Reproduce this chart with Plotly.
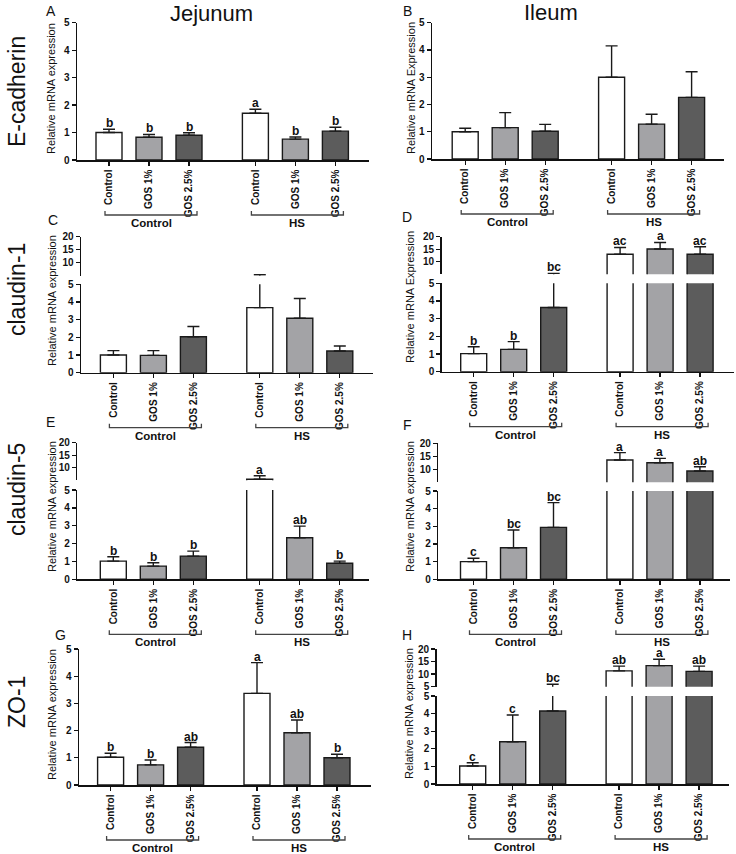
import plotly.graph_objects as go

W, H = 736, 854

categories = ["Control", "GOS 1%", "GOS 2.5%", "Control", "GOS 1%", "GOS 2.5%"]
x_pos = [0, 1, 2, 3.66, 4.66, 5.66]
group_names = ["Control", "HS"]
group_centers = [1.05, 4.71]
bar_colors = ["#ffffff", "#a3a3a6", "#5c5c5c", "#ffffff", "#a3a3a6", "#5c5c5c"]

row_labels = ["E-cadherin", "claudin-1", "claudin-5", "ZO-1"]
col_titles = ["Jejunum", "Ileum"]

A_mean = [1.0, 0.83, 0.90, 1.70, 0.76, 1.05]
A_err = [0.12, 0.10, 0.09, 0.15, 0.08, 0.14]
A_let = ["b", "b", "b", "a", "b", "b"]

B_mean = [1.0, 1.15, 1.02, 3.0, 1.28, 2.26]
B_err = [0.13, 0.55, 0.25, 1.15, 0.36, 0.94]
B_let = ["", "", "", "", "", ""]

C_mean = [1.0, 0.98, 2.03, 3.68, 3.08, 1.23]
C_err = [0.25, 0.27, 0.58, 1.67, 1.12, 0.28]
C_let = ["", "", "", "", "", ""]

D_mean = [1.02, 1.26, 3.63, 13.0, 15.1, 13.0]
D_err = [0.39, 0.44, 1.72, 2.7, 2.6, 3.0]
D_let = ["b", "b", "bc", "ac", "a", "ac"]

E_mean = [1.02, 0.74, 1.30, 5.4, 2.33, 0.90]
E_err = [0.24, 0.19, 0.28, 1.4, 0.65, 0.12]
E_let = ["b", "b", "b", "a", "ab", "b"]

F_mean = [1.0, 1.79, 2.94, 13.6, 12.5, 9.35]
F_err = [0.19, 1.0, 1.4, 2.8, 1.7, 1.65]
F_let = ["c", "bc", "bc", "a", "a", "ab"]

G_mean = [1.02, 0.74, 1.39, 3.37, 1.92, 1.0]
G_err = [0.15, 0.18, 0.17, 1.13, 0.47, 0.13]
G_let = ["b", "b", "ab", "a", "ab", "b"]

H_mean = [1.02, 2.40, 4.15, 11.3, 13.4, 11.1]
H_err = [0.19, 1.52, 1.85, 1.9, 2.5, 2.1]
H_let = ["c", "c", "bc", "ab", "a", "ab"]

FONT = "Liberation Sans, Arial, sans-serif"


def px(x):
    return x / W


def py(y):
    return 1 - y / H


panels = [
    dict(k="A", mean=A_mean, err=A_err, let=A_let, ax=77, xmin=-0.80, low=(160, 22.7), up=None,
         title="Relative mRNA expression", tpos=(51, 89), lpos=(51, 11)),
    dict(k="B", mean=B_mean, err=B_err, let=B_let, ax=432, xmin=-0.83, low=(159, 22.7), up=None,
         title="Relative mRNA Expression", tpos=(411, 88), lpos=(407, 11)),
    dict(k="C", mean=C_mean, err=C_err, let=C_let, ax=81, xmin=-0.81, low=(372.7, 284.3), up=(275.7, 236.7),
         uticks=[10, 15, 20], title="Relative mRNA expression", tpos=(52, 300), lpos=(53, 220)),
    dict(k="D", mean=D_mean, err=D_err, let=D_let, ax=441.7, xmin=-0.80, low=(371.7, 283.3), up=(274.2, 236.7),
         uticks=[10, 15, 20], title="Relative mRNA Expression", tpos=(410, 297), lpos=(407, 217)),
    dict(k="E", mean=E_mean, err=E_err, let=E_let, ax=77.3, xmin=-0.90, low=(579.3, 490), up=(480.2, 442.7),
         uticks=[10, 15, 20], title="Relative mRNA expression", tpos=(52, 506), lpos=(50, 422)),
    dict(k="F", mean=F_mean, err=F_err, let=F_let, ax=438.3, xmin=-0.88, low=(579.3, 491), up=(482.3, 443.3),
         uticks=[10, 15, 20], title="Relative mRNA expression", tpos=(410, 507), lpos=(407, 425)),
    dict(k="G", mean=G_mean, err=G_err, let=G_let, ax=79, xmin=-0.79, low=(785, 649), up=None,
         title="Relative mRNA expression", tpos=(52, 714), lpos=(60, 635)),
    dict(k="H", mean=H_mean, err=H_err, let=H_let, ax=436.7, xmin=-0.90, low=(784, 696), up=(686.7, 649),
         uticks=[5, 10, 15, 20], title="Relative mRNA expression", tpos=(409, 714), lpos=(407, 635)),
]

fig = go.Figure()
layout = {}
annotations = []
shapes = []


def axname(a, i):
    return f"{a}axis" if i == 1 else f"{a}axis{i}"


def axref(a, i):
    return a if i == 1 else f"{a}{i}"


def paper_text(x, y, text, size, angle=0, weight="normal"):
    return dict(x=px(x), y=py(y), xref="paper", yref="paper", text=text, textangle=angle,
                showarrow=False, xanchor="center", yanchor="middle",
                font=dict(family=FONT, size=size, color="#111", weight=weight))


yi = 0
span_px = 292
for pi, p in enumerate(panels, start=1):
    xi = pi
    yi += 1
    y_low = yi
    y_up = None
    if p["up"] is not None:
        yi += 1
        y_up = yi
    xr = axref("x", xi)
    layout[axname("x", xi)] = dict(
        domain=[px(p["ax"]), px(p["ax"] + span_px)], range=[p["xmin"], p["xmin"] + 7.3],
        anchor=axref("y", y_low), tickmode="array", tickvals=x_pos, ticktext=categories,
        tickangle=-90, ticks="outside", ticklen=4, tickwidth=1.3, tickcolor="#111",
        showline=True, linecolor="#111", linewidth=1.5, showgrid=False, zeroline=False,
        automargin=False,
        tickfont=dict(family=FONT, size=10, color="#111", weight="bold"), fixedrange=True,
    )
    segs = [(y_low, [0, 5], p["low"], [0, 1, 2, 3, 4, 5])]
    if y_up is not None:
        segs.append((y_up, [5, 20], p["up"], p["uticks"]))
    for (yidx, rng, (ypx0, ypx1), tv) in segs:
        layout[axname("y", yidx)] = dict(
            domain=[py(ypx0), py(ypx1)], range=rng, anchor=xr, tickmode="array", tickvals=tv,
            ticks="outside", ticklen=4, tickwidth=1.3, tickcolor="#111",
            showline=True, linecolor="#111", linewidth=1.5, showgrid=False, zeroline=False,
            automargin=False,
            tickfont=dict(family=FONT, size=10, color="#111", weight="bold"), fixedrange=True,
        )
        fig.add_trace(go.Bar(
            x=x_pos, y=p["mean"], width=0.65, xaxis=xr, yaxis=axref("y", yidx),
            marker=dict(color=bar_colors, line=dict(color="#1a1a1a", width=1.4)),
            error_y=dict(type="data", symmetric=False, array=p["err"], arrayminus=[0] * 6,
                         color="#1a1a1a", thickness=1.4, width=6),
            showlegend=False, hoverinfo="skip",
        ))
    for xv, m, e, lt in zip(x_pos, p["mean"], p["err"], p["let"]):
        if not lt:
            continue
        top = m + e
        yref = axref("y", y_up) if (y_up is not None and top > 5) else axref("y", y_low)
        annotations.append(dict(x=xv, y=top, xref=xr, yref=yref, text=lt, showarrow=False,
                                xanchor="center", yanchor="bottom", yshift=-2, borderpad=0,
                                font=dict(family=FONT, size=12, color="#111", weight="bold")))
    y0px = p["low"][0]
    yl = py(y0px + 55)
    yt = py(y0px + 51)
    for gi, gc in enumerate(group_centers):
        xa = x_pos[gi * 3] - 0.1
        xb = x_pos[gi * 3 + 2] + 0.2
        shapes.append(dict(type="path", xref=xr, yref="paper",
                           path=f"M {xa},{yt} L {xa},{yl} L {xb},{yl} L {xb},{yt}",
                           line=dict(color="#444", width=1.3)))
        annotations.append(dict(x=gc, y=py(y0px + 63), xref=xr, yref="paper", text=group_names[gi],
                                showarrow=False, xanchor="center", yanchor="middle", borderpad=0,
                                font=dict(family=FONT, size=11.5, color="#111", weight="bold")))
    annotations.append(paper_text(p["tpos"][0], p["tpos"][1], p["title"], 11, angle=-90))
    annotations.append(paper_text(p["lpos"][0], p["lpos"][1], p["k"], 14))

for lbl, yc in zip(row_labels, [92, 290, 490, 702]):
    annotations.append(paper_text(17, yc, lbl, 23, angle=-90))
for t, (xc, yc) in zip(col_titles, [(211, 13), (551, 12)]):
    annotations.append(paper_text(xc, yc, t, 22))

fig.update_layout(
    width=W, height=H, margin=dict(l=0, r=0, t=0, b=0, autoexpand=False),
    paper_bgcolor="white", plot_bgcolor="white", bargap=0,
    annotations=annotations, shapes=shapes, **layout,
)

fig.write_html("out.html", config={"displayModeBar": False, "staticPlot": True},
               post_script="document.body.style.margin='0';")
